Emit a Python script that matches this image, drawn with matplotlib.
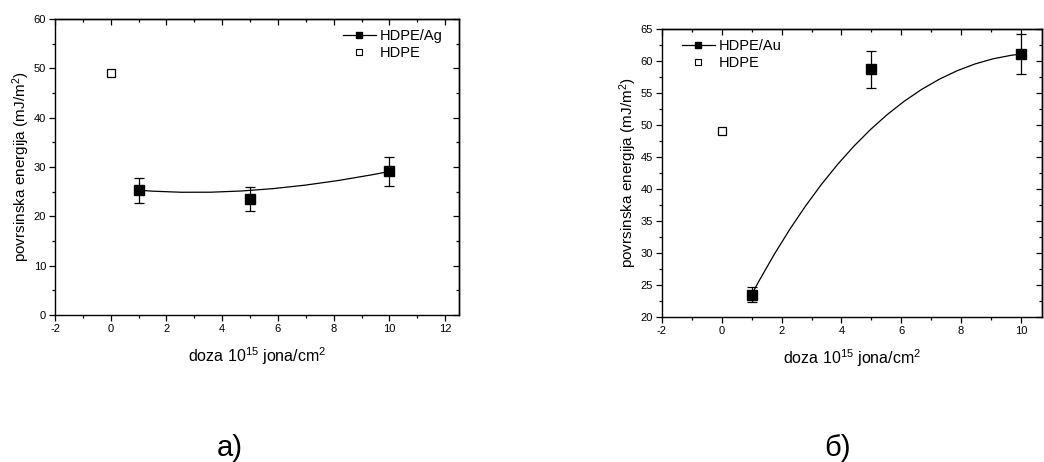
import matplotlib
matplotlib.use("Agg")
import matplotlib.pyplot as plt
from matplotlib.path import Path
from matplotlib.patches import PathPatch
from matplotlib.ticker import MultipleLocator

plt.rcParams['font.family'] = ['Liberation Sans', 'DejaVu Sans']
plt.rcParams['axes.unicode_minus'] = False
plt.rcParams['mathtext.fontset'] = 'custom'
plt.rcParams['mathtext.rm'] = 'Liberation Sans'
plt.rcParams['mathtext.it'] = 'Liberation Sans'

# Data
dose = [1, 5, 10]
ag_energy = [25.3, 23.5, 29.1]
ag_err = [2.5, 2.35, 2.9]
au_energy = [23.5, 58.7, 61.1]
au_err = [1.2, 2.95, 3.1]
hdpe_dose = [0]
hdpe_energy = [49.0]

xlabel = "doza 10$^{15}$ jona/cm$^{2}$"
ylabel = "povrsinska energija (mJ/m$^{2}$)"

fig = plt.figure(figsize=(10.44, 4.62), dpi=100)
axA = fig.add_axes([0.0527, 0.318, 0.387, 0.641])
axB = fig.add_axes([0.634, 0.314, 0.364, 0.623])


def style(ax, xlim, ylim, xmaj, xmin, ymaj, ymin):
    ax.set_xlim(*xlim)
    ax.set_ylim(*ylim)
    ax.xaxis.set_major_locator(MultipleLocator(xmaj))
    ax.xaxis.set_minor_locator(MultipleLocator(xmin))
    ax.yaxis.set_major_locator(MultipleLocator(ymaj))
    ax.yaxis.set_minor_locator(MultipleLocator(ymin))
    ax.tick_params(which='both', direction='out', labelsize=8, width=0.9, colors='black', pad=2.5)
    ax.tick_params(which='major', length=4)
    ax.tick_params(which='minor', length=2.5)
    for s in ax.spines.values():
        s.set_linewidth(1.0)
    top = ax.secondary_xaxis('top', functions=(lambda v: v, lambda v: v))
    right = ax.secondary_yaxis('right', functions=(lambda v: v, lambda v: v))
    top.xaxis.set_major_locator(MultipleLocator(xmaj))
    top.xaxis.set_minor_locator(MultipleLocator(xmin))
    right.yaxis.set_major_locator(MultipleLocator(ymaj))
    right.yaxis.set_minor_locator(MultipleLocator(ymin))
    for sec in (top, right):
        sec.tick_params(which='both', direction='in', labeltop=False, labelright=False, width=0.9)
        sec.tick_params(which='major', length=4)
        sec.tick_params(which='minor', length=2.5)
        for s in sec.spines.values():
            s.set_linewidth(1.0)
    ax.set_xlabel(xlabel, fontsize=11.5, labelpad=8)
    ax.set_ylabel(ylabel, fontsize=11, labelpad=1)


def curve(ax, xs, ys):
    verts = list(zip(xs, ys))
    path = Path(verts, [Path.MOVETO, Path.CURVE3, Path.CURVE3])
    ax.add_patch(PathPatch(path, facecolor='none', edgecolor='black', lw=0.9, zorder=2))


def panel(ax, energy, err, labels, loc, anchor):
    curve(ax, dose, energy)
    ax.errorbar(dose, energy, yerr=err, fmt='none', ecolor='black', elinewidth=0.9,
                capsize=3.5, capthick=0.9, zorder=3)
    ax.plot(dose, energy, 's', color='black', markersize=7, zorder=4)
    ax.plot(hdpe_dose, hdpe_energy, 's', mfc='white', mec='black', mew=0.9,
            markersize=6.3, zorder=4)
    h1, = ax.plot([], [], '-s', color='black', lw=0.9, markersize=4.8)
    h2, = ax.plot([], [], 's', mfc='white', mec='black', mew=0.8, markersize=4.3)
    ax.legend([h1, h2], labels, loc=loc, bbox_to_anchor=anchor, frameon=False,
              fontsize=10.5, handlelength=2.3, handletextpad=0.25, borderaxespad=0.3,
              labelspacing=0.2)


style(axA, (-2, 12.5), (0, 60), 2, 1, 10, 5)
panel(axA, ag_energy, ag_err, ['HDPE/Ag', 'HDPE'], 'upper right', (0.985, 1.0))

style(axB, (-2, 10.7), (20, 65), 2, 1, 5, 2.5)
panel(axB, au_energy, au_err, ['HDPE/Au', 'HDPE'], 'upper left', (0.025, 1.0))

fig.text(0.22, 0.03, 'a)', fontsize=21, ha='center', va='center')
fig.text(0.802, 0.03, 'б)', fontsize=21, ha='center', va='center')

fig.savefig('out.png', dpi=100)
